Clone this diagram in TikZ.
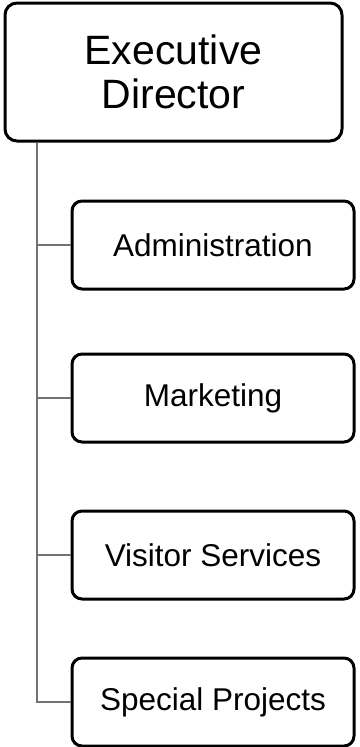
\documentclass[tikz,border=0pt]{standalone}
\usepackage{fontspec}
\setmainfont{Liberation Sans}

\begin{document}
\begin{tikzpicture}[x=1pt, y=-1pt,
  boss/.style={draw, line width=3pt, rounded corners=12pt, minimum width=337pt, minimum height=138pt, align=center, font=\fontsize{41}{44}\selectfont},
  unit/.style={draw, line width=3pt, rounded corners=10pt, minimum width=282pt, minimum height=88pt, font=\fontsize{31.5}{36}\selectfont},
  branch/.style={draw=black!55, line width=2.5pt}]

\useasboundingbox (0, 0) rectangle (359, 747);

\node[boss] (exec) at (173.5, 72) {Executive\\Director};
\node[unit] (admin) at (213, 245) {Administration};
\node[unit] (marketing) at (213, 398) {Marketing};
\node[unit] (visitor) at (213, 555) {Visitor Services};
\node[unit] (special) at (213, 702) {Special Projects};

\coordinate (trunk) at (37, 0);

\draw[branch] (exec.south -| trunk) |- (special.west);
\draw[branch] (admin.west -| trunk) -- (admin.west);
\draw[branch] (marketing.west -| trunk) -- (marketing.west);
\draw[branch] (visitor.west -| trunk) -- (visitor.west);

\end{tikzpicture}
\end{document}
